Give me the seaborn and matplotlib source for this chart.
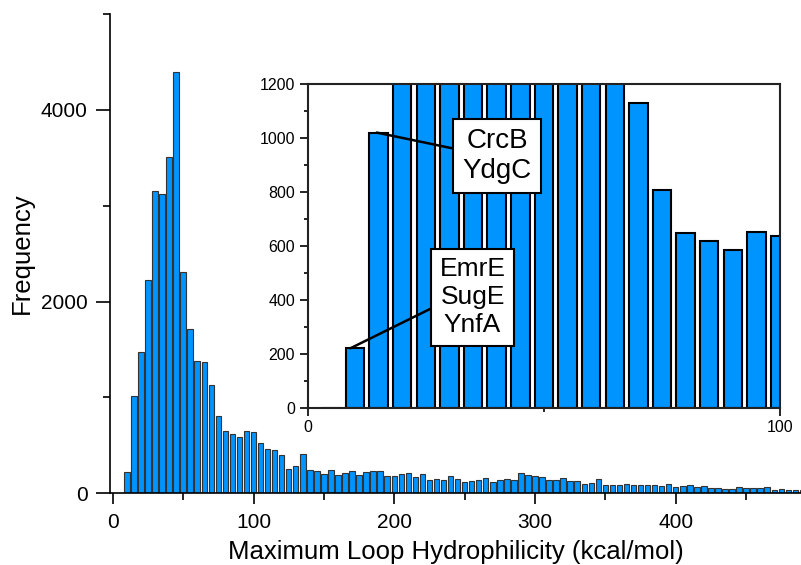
import numpy as np
import matplotlib
matplotlib.use('Agg')
import matplotlib.pyplot as plt
from matplotlib.ticker import MultipleLocator, FixedLocator
import seaborn as sns

# bin centres (kcal/mol), bin width 5
bin_centers = list(range(5, 495, 5))
counts = [0, 220, 1020, 1470, 2220, 3150, 3120, 3510, 4400, 2310,
          1710, 1380, 1370, 1130, 807, 649, 618, 583, 651, 638,
          522, 463, 449, 400, 255, 280, 411, 247, 233, 199,
          244, 195, 213, 230, 188, 220, 233, 230, 178, 178,
          199, 209, 171, 206, 139, 153, 139, 185, 150, 118,
          129, 136, 160, 118, 143, 150, 143, 209, 188, 180,
          167, 139, 139, 160, 132, 129, 98, 111, 153, 87,
          84, 84, 98, 87, 84, 84, 84, 80, 94, 63,
          73, 84, 66, 73, 56, 56, 45, 45, 62, 59,
          59, 59, 66, 38, 40, 38, 36, 36]

bar_color = '#0094ff'

sns.set_style('ticks')
plt.rcParams['font.family'] = ['Liberation Sans', 'DejaVu Sans']
plt.rcParams['text.color'] = 'black'
plt.rcParams['axes.labelcolor'] = 'black'
plt.rcParams['xtick.color'] = 'black'
plt.rcParams['ytick.color'] = 'black'

fig = plt.figure(figsize=(8.01, 5.65), dpi=100)
ax = fig.add_axes([0.1373, 0.1269, 0.8627, 0.8483])

sns.histplot(x=bin_centers, weights=counts, binwidth=5, binrange=(2.5, 492.5),
             shrink=0.78, color=bar_color, edgecolor='#333333', linewidth=0.8,
             alpha=1, ax=ax)
ax.set_xlim(-2, 489)
ax.set_ylim(0, 5000)
ax.xaxis.set_major_locator(MultipleLocator(100))
ax.xaxis.set_minor_locator(MultipleLocator(50))
ax.yaxis.set_major_locator(MultipleLocator(2000))
ax.yaxis.set_minor_locator(MultipleLocator(1000))
ax.tick_params(which='major', length=8, width=1.2, labelsize=15, pad=6)
ax.tick_params(axis='y', which='major', length=10)
ax.tick_params(which='minor', length=5, width=1.2)
ax.set_xlabel('Maximum Loop Hydrophilicity (kcal/mol)', fontsize=18.5, labelpad=6)
ax.set_ylabel('Frequency', fontsize=18.5, labelpad=5)
sns.despine(ax=ax)
for s in ['left', 'bottom']:
    ax.spines[s].set_linewidth(1.2)
    ax.spines[s].set_color('black')

# inset zoom on 0-100
ax_in = fig.add_axes([0.3842, 0.2784, 0.5897, 0.5729])
sns.histplot(x=bin_centers, weights=counts, binwidth=5, binrange=(2.5, 492.5),
             shrink=0.78, color=bar_color, edgecolor='black', linewidth=1.5,
             alpha=1, ax=ax_in)
ax_in.set_xlim(0, 100)
ax_in.set_ylim(0, 1200)
ax_in.xaxis.set_major_locator(FixedLocator([0, 100]))
ax_in.xaxis.set_minor_locator(FixedLocator([50]))
ax_in.yaxis.set_major_locator(MultipleLocator(200))
ax_in.yaxis.set_minor_locator(MultipleLocator(100))
ax_in.tick_params(which='major', length=6, width=1.2, labelsize=11.5, pad=3)
ax_in.tick_params(which='minor', length=3, width=1.2)
ax_in.set_xlabel('')
ax_in.set_ylabel('')
for s in ax_in.spines.values():
    s.set_linewidth(1.5)
    s.set_color('#222222')

box = dict(boxstyle='square,pad=0.33', fc='white', ec='black', lw=1.5)
ax_in.annotate('CrcB\nYdgC', xy=(14.6, 1020), xytext=(40.1, 933),
               ha='center', va='center', fontsize=20, bbox=box, zorder=5,
               arrowprops=dict(arrowstyle='-', lw=1.8, color='black',
                               relpos=(0, 0.6), shrinkA=0, shrinkB=0))
ax_in.annotate('EmrE\nSugE\nYnfA', xy=(9.0, 220), xytext=(34.9, 410),
               ha='center', va='center', fontsize=19, bbox=box, zorder=5,
               arrowprops=dict(arrowstyle='-', lw=1.8, color='black',
                               relpos=(0, 0.41), shrinkA=0, shrinkB=0))

fig.savefig('out.png', dpi=100)
